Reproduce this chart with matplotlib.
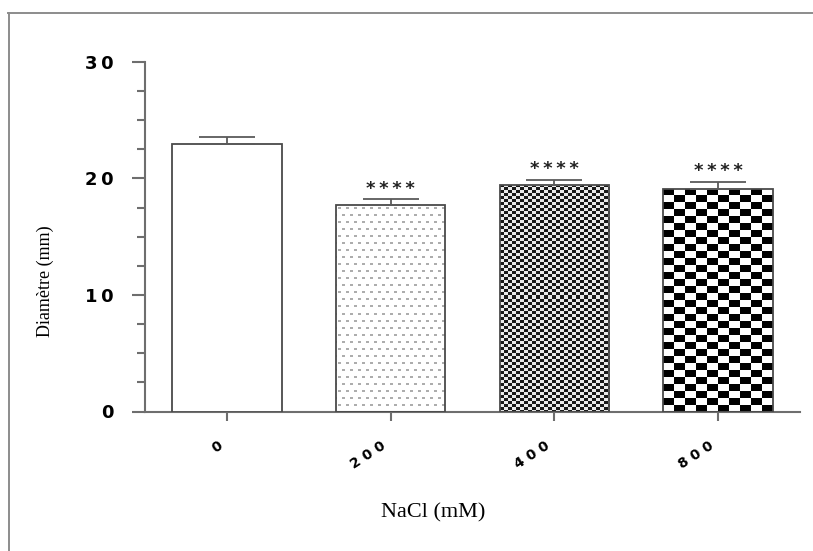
import numpy as np
import matplotlib
matplotlib.use("Agg")
import matplotlib.pyplot as plt
from matplotlib.lines import Line2D
from matplotlib.transforms import ScaledTranslation

# ---- data ----
categories = ["0", "2 0 0", "4 0 0", "8 0 0"]
means = [23.0, 17.7, 19.4, 19.1]
errors = [0.6, 0.5, 0.5, 0.6]
significance = ["", "****", "****", "****"]
yticks_major = [0, 10, 20, 30]
ytick_labels = ["0", "1\u20090", "2\u20090", "3\u20090"]
patterns = ["none", "dash", "fine", "coarse"]

W, H, DPI = 813, 551, 100
fig = plt.figure(figsize=(W / DPI, H / DPI), dpi=DPI)
fig.patch.set_facecolor("white")

# outer frame (left and top only visible)
frame_col = "#8c8c8c"
fig.add_artist(Line2D([8.5 / W, 8.5 / W], [0, 1 - 13 / H], transform=fig.transFigure,
                      color=frame_col, lw=1.4))
fig.add_artist(Line2D([8 / W, 1], [1 - 13 / H, 1 - 13 / H], transform=fig.transFigure,
                      color=frame_col, lw=1.4))

ax = fig.add_axes([145 / W, (H - 411.5) / H, 655 / W, 349.5 / H])
x = np.arange(len(categories))
axis_col = "#6e6e6e"
edge_col = "#4a4a4a"

facecolors = ["white" if p == "none" else "none" for p in patterns]
bars = ax.bar(x, means, width=0.67, facecolor=facecolors, edgecolor=edge_col,
              linewidth=1.3, zorder=3)
ax.set_xlim(-0.5, 3.5)
ax.set_ylim(0, 30)


def make_pattern(kind, wpx, hpx):
    img = np.ones((hpx, wpx, 3))
    yy, xx = np.mgrid[0:hpx, 0:wpx]
    if kind == "dash":
        row = yy // 7
        ry = yy % 7
        off = np.where(row % 2 == 0, 0, 4)
        rx = (xx + off) % 8
        mask = (ry >= 3) & (ry <= 4) & (rx >= 2) & (rx < 5)
        img[mask] = 0.68
    elif kind == "fine":
        c = ((xx // 4) + (yy // 3)) % 2 == 0
        img[c] = 0.1
        img[~c] = 0.92
    elif kind == "coarse":
        c = ((xx // 11) + (yy // 7)) % 2 == 0
        img[c] = 0.0
    return img


for bar, kind in zip(bars, patterns):
    if kind == "none":
        continue
    bb = bar.get_window_extent()
    wpx, hpx = int(round(bb.width)), int(round(bb.height))
    img = make_pattern(kind, wpx, hpx)
    x0, y0 = bar.get_x(), bar.get_y()
    im = ax.imshow(img, extent=(x0, x0 + bar.get_width(), y0, y0 + bar.get_height()),
                   origin="upper", interpolation="nearest", aspect="auto", zorder=2)
    im.set_clip_path(bar)

ax.set_xlim(-0.5, 3.5)
ax.set_ylim(0, 30)

ax.errorbar(x, means, yerr=[np.zeros(len(means)), errors], fmt="none",
            ecolor="#5a5a5a", elinewidth=1.3, capsize=20, capthick=1.3, zorder=4)

for xi, m, e, s in zip(x, means, errors, significance):
    if s:
        ax.annotate("\u2009".join(s), xy=(xi, m + e), xytext=(0, 4),
                    textcoords="offset points", ha="center", va="baseline",
                    fontsize=13, fontweight="bold", color="#222222", zorder=5)

# spines
for side in ["top", "right"]:
    ax.spines[side].set_visible(False)
for side in ["left", "bottom"]:
    ax.spines[side].set_color(axis_col)
    ax.spines[side].set_linewidth(1.5)

ax.set_yticks(yticks_major)
ax.set_yticklabels(ytick_labels, fontsize=13, fontweight="bold")
ax.set_yticks(np.arange(0, 30.01, 2.5), minor=True)
ax.tick_params(axis="y", which="major", direction="out", length=9.4, width=1.5,
               color=axis_col, pad=13)
ax.tick_params(axis="y", which="minor", direction="out", length=5.8, width=1.5,
               color=axis_col)

ax.set_xticks(x)
ax.set_xticklabels(categories, fontsize=10, fontweight="bold", rotation=33,
                   ha="right", va="center", rotation_mode="anchor")
ax.tick_params(axis="x", which="major", direction="out", length=6.5, width=1.5,
               color=axis_col, pad=17)
for lab in ax.get_xticklabels():
    lab.set_transform(lab.get_transform() + ScaledTranslation(-6 / DPI, 0, fig.dpi_scale_trans))

fig.text(45 / W, 1 - 281 / H, "Diamètre (mm)", rotation=90, ha="center", va="center",
         family="Liberation Serif", fontsize=13)
fig.text(433 / W, 1 - 513 / H, "NaCl (mM)", ha="center", va="center",
         family="Liberation Serif", fontsize=16)

fig.savefig("out.png", dpi=DPI, facecolor="white")
